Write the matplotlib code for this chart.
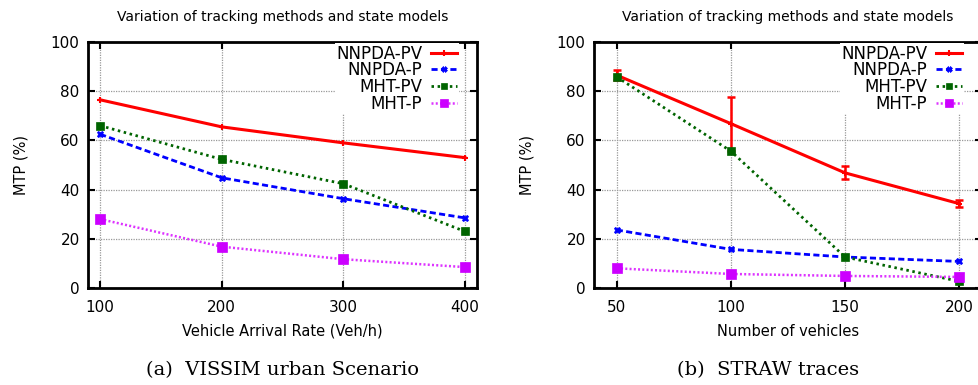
import matplotlib
matplotlib.use("Agg")
import matplotlib.pyplot as plt

# Data
series_names = ["NNPDA-PV", "NNPDA-P", "MHT-PV", "MHT-P"]

rate_x = [100, 200, 300, 400]
rate_nnpda_pv = [76.5, 65.5, 59, 53]
rate_nnpda_p = [62.5, 44.8, 36.3, 28.5]
rate_mht_pv = [66, 52.3, 42.4, 23]
rate_mht_p = [28, 16.8, 11.7, 8.5]

veh_x = [50, 100, 150, 200]
veh_nnpda_pv = [86.5, 66.8, 46.8, 34.3]
veh_nnpda_pv_lo = [84.5, 55.8, 44.2, 33.0]
veh_nnpda_pv_hi = [88.7, 77.8, 49.6, 35.6]
veh_nnpda_p = [23.6, 15.7, 12.6, 10.8]
veh_mht_pv = [85.8, 55.6, 12.6, 2.7]
veh_mht_p = [8.0, 5.7, 4.9, 4.5]

title = "Variation of tracking methods and state models"
captions = ["(a)  VISSIM urban Scenario", "(b)  STRAW traces"]

W, H = 979, 385
fig = plt.figure(figsize=(W / 100, H / 100), dpi=100)

styles = [
    dict(color="#ff0000", ls="-", lw=2.2, marker="+", ms=5, mew=1.5),
    dict(color="#0000ff", ls=(0, (2.2, 1.2)), lw=2.0, marker="X", ms=5, mew=0.5),
    dict(color="#006400", ls=(0, (0.9, 1.3)), lw=2.0, marker="s", ms=5.5, mew=0.5),
    dict(color="#dd33ff", ls=(0, (0.8, 0.9)), lw=1.8, marker="s", ms=6.5, mew=0.5,
         mfc="#cc00ff", mec="#cc00ff"),
]


def setup(ax, xticks, xlim, xlabel, axw):
    ax.set_xlim(*xlim)
    ax.set_ylim(0, 100)
    ax.set_xticks(xticks)
    ax.set_yticks([0, 20, 40, 60, 80, 100])
    ax.grid(True, color="#999999", ls=(0, (1, 1)), lw=0.9)
    ax.set_axisbelow(True)
    for s in ax.spines.values():
        s.set_linewidth(2.0)
    ax.tick_params(direction="in", length=5, width=1.5, labelsize=11,
                   top=True, right=True)
    ax.tick_params(axis="x", pad=9)
    ax.tick_params(axis="y", pad=6)
    ax.set_xlabel(xlabel, fontsize=10.5, labelpad=6)
    ax.set_ylabel("MTP (%)", fontsize=10.5, labelpad=16)
    ax.set_title(title, fontsize=10, pad=15)
    leg = ax.legend(loc="upper right", bbox_to_anchor=(1 - 18 / axw, 1 - 1 / 246),
                    frameon=True, fancybox=False,
                    edgecolor="none", facecolor="white", framealpha=1,
                    markerfirst=False, fontsize=12, handlelength=1.6,
                    labelspacing=-0.08, borderpad=0.1, handletextpad=0.5,
                    borderaxespad=0.0, markerscale=0.8)
    for t in leg.get_texts():
        t.set_ha("right")
    leg.get_frame().set_linewidth(0)
    return leg


ax1 = fig.add_axes([88 / W, (H - 288) / H, 389 / W, 246 / H])
for name, ys, st in zip(series_names,
                        [rate_nnpda_pv, rate_nnpda_p, rate_mht_pv, rate_mht_p],
                        styles):
    ax1.plot(rate_x, ys, label=name, **st)
leg1 = setup(ax1, rate_x, (90, 410), "Vehicle Arrival Rate (Veh/h)", 389)

ax2 = fig.add_axes([594 / W, (H - 288) / H, 388 / W, 246 / H])
for i, (name, ys, st) in enumerate(zip(series_names,
                                       [veh_nnpda_pv, veh_nnpda_p, veh_mht_pv, veh_mht_p],
                                       styles)):
    ax2.plot(veh_x, ys, label=name, **st)
    if i == 0:
        lo = [y - l for y, l in zip(ys, veh_nnpda_pv_lo)]
        hi = [h - y for y, h in zip(ys, veh_nnpda_pv_hi)]
        ax2.errorbar(veh_x, ys, yerr=[lo, hi], fmt="none", ecolor=st["color"],
                     elinewidth=1.8, capsize=3, capthick=1.8)
leg2 = setup(ax2, veh_x, (40, 210), "Number of vehicles", 388)

fig.text(282 / W, 1 - 370 / H, captions[0], ha="center", va="center",
         fontsize=14, family="DejaVu Serif")
fig.text(768 / W, 1 - 370 / H, captions[1], ha="center", va="center",
         fontsize=14, family="DejaVu Serif")

fig.savefig("out.png", dpi=100)
